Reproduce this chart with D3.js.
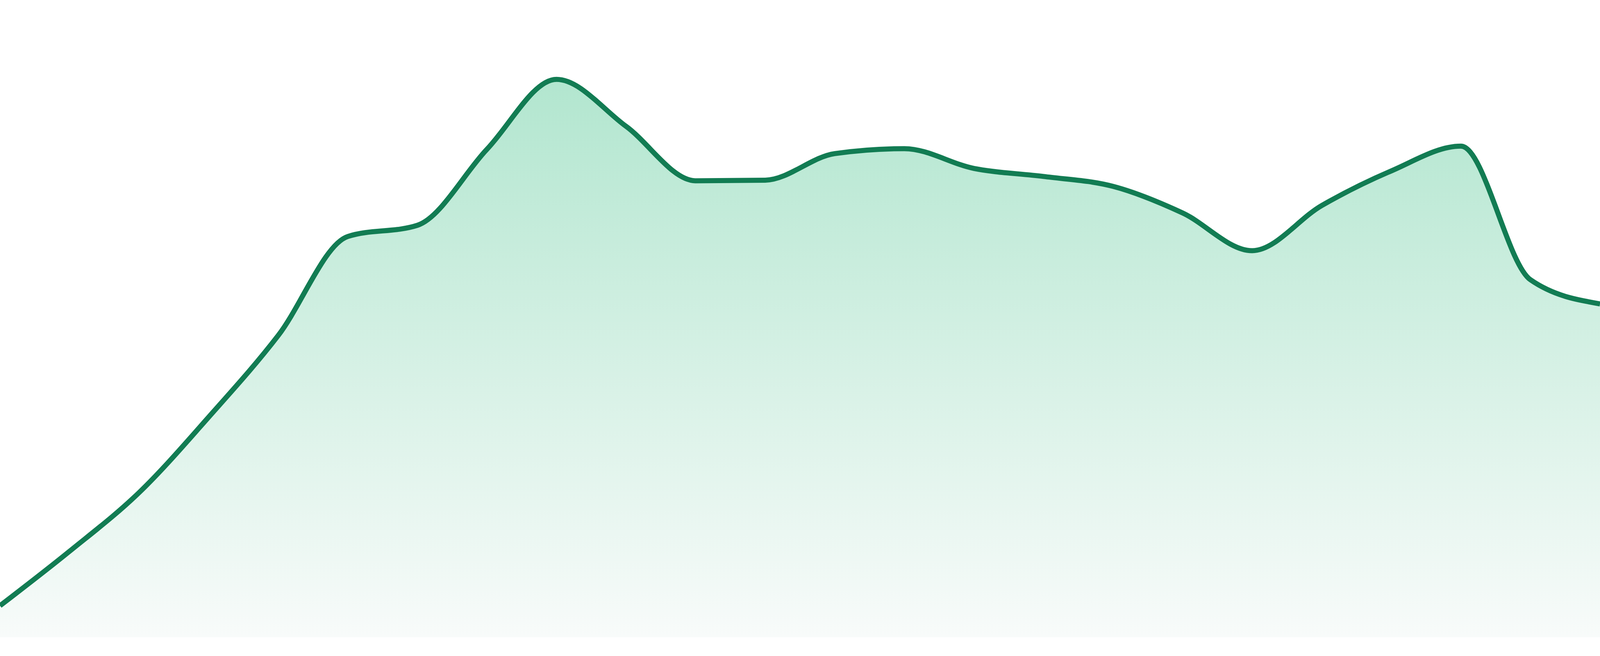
<!DOCTYPE html>
<html>
<head>
<meta charset="utf-8">
<script src="https://cdn.jsdelivr.net/npm/d3@7"></script>
<style>
  html, body { margin: 0; padding: 0; background: #fff; overflow: hidden; }
  #spark { width: 100vw; height: 100vh; }
  #spark svg { display: block; }
</style>
</head>
<body>
<div id="spark"></div>
<script>
// DATA (one value per step, equally spaced)
const steps = d3.range(24);
const values = [
    5.1, 13.9, 23.4, 35.6, 48.8, 64.8, 66.6, 78.9, 90.2, 82.6,
    73.8, 73.9, 78.2, 79.0, 75.8, 74.5, 72.9, 68.6, 62.5, 69.8,
    75.4, 79.4, 57.8, 53.9
];
const yDomain = [0, 100];

///// AREA SPARKLINE
class SparkArea {
    constructor(el, xs, ys) {
        const vis = this;
        vis.el = el;
        vis.data = xs.map((x, i) => ({ x: x, y: ys[i] }));
        vis.lineColor = '#127c53';
        vis.init();
    }

    init() {
        const vis = this;

        // MAIN SVG
        vis.chartDiv = document.getElementById(vis.el);
        vis.chartDiv.innerHTML = '';
        vis.svg = d3.select(vis.chartDiv).append('svg');

        // GRADIENT FOR THE FILL
        const grad = vis.svg.append('defs')
            .append('linearGradient')
            .attr('id', 'spark-fill')
            .attr('x1', 0).attr('x2', 0)
            .attr('y1', 0).attr('y2', 1);
        grad.append('stop').attr('offset', '0%').attr('stop-color', '#b2e6cf');
        grad.append('stop').attr('offset', '100%').attr('stop-color', '#f8fbfa');

        vis.g = vis.svg.append('g');
        vis.area = vis.g.append('path').attr('class', 'spark-area');
        vis.line = vis.g.append('path').attr('class', 'spark-line');

        vis.redraw();
    }

    redraw() {
        const vis = this;

        // size comes from the window (css), not hard coded
        const width = vis.chartDiv.clientWidth;
        const height = vis.chartDiv.clientHeight;
        vis.svg.attr('width', width).attr('height', height);

        const k = height / 1680; // design was made at 1680 tall
        const MARGIN = { top: 48 * k, right: 0, bottom: 48 * k, left: 0 };

        // SCALES
        const x = d3.scaleLinear()
            .domain(d3.extent(vis.data, d => d.x))
            .range([MARGIN.left, width - MARGIN.right]);

        const y = d3.scaleLinear()
            .domain(yDomain)
            .range([height - MARGIN.bottom, MARGIN.top]);

        const areaGen = d3.area()
            .curve(d3.curveMonotoneX)
            .x(d => x(d.x))
            .y0(y(yDomain[0]))
            .y1(d => y(d.y));

        const lineGen = d3.line()
            .curve(d3.curveMonotoneX)
            .x(d => x(d.x))
            .y(d => y(d.y));

        vis.area
            .datum(vis.data)
            .attr('d', areaGen)
            .attr('fill', 'url(#spark-fill)');

        vis.line
            .datum(vis.data)
            .attr('d', lineGen)
            .attr('fill', 'none')
            .attr('stroke', vis.lineColor)
            .attr('stroke-width', 13 * k)
            .attr('stroke-linejoin', 'round');
    }
}

new SparkArea('spark', steps, values);
</script>
</body>
</html>
